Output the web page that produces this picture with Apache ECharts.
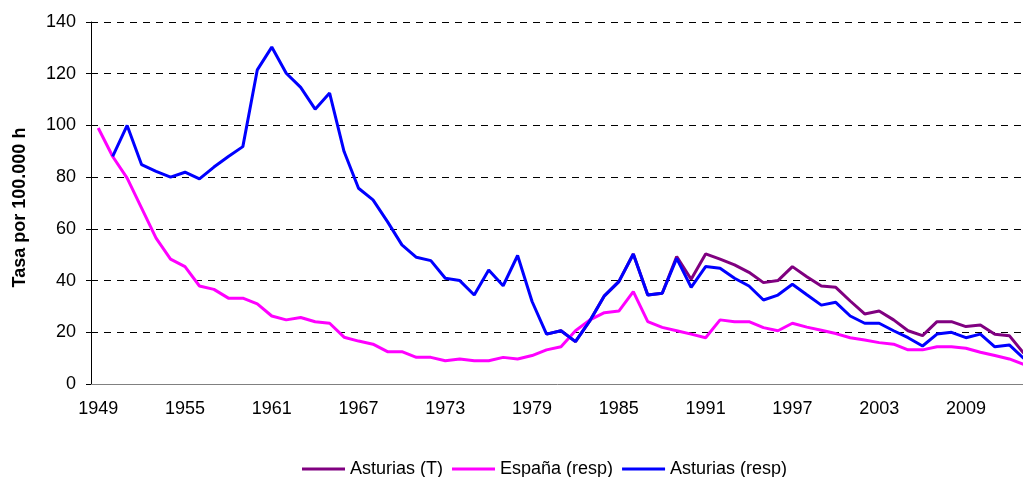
<!DOCTYPE html>
<html>
<head>
<meta charset="utf-8">
<script src="https://cdn.jsdelivr.net/npm/echarts@6/dist/echarts.min.js"></script>
<style>
  html, body { margin: 0; padding: 0; background: #fff; }
  #chart { width: 1023px; height: 477px; }
</style>
</head>
<body>
<div id="chart"></div>
<script>
// years 1949..2013
var years = [];
for (var y = 1949; y <= 2013; y++) years.push(String(y));

var asturiasT = [
  null, null, null, null, null, null, null, null, null, null,
  null, null, null, null, null, null, null, null, null, null,
  null, null, null, null, null, null, null, null, null, null,
  null, 19.3, 20.6, 16.4, 24.5, 34.1, 39.6, 50.3, 34.4, 35.1,
  49.3, 40.5, 50.3, 48.3, 46.1, 43.2, 39.2, 40.0, 45.4, 41.5,
  37.9, 37.4, 32.1, 27.1, 28.2, 24.8, 20.6, 18.7, 24.1, 24.1,
  22.2, 22.8, 19.2, 18.7, 11.9
];

var espanaResp = [
  99.0, 88.0, 79.6, 68.0, 56.4, 48.3, 45.4, 37.9, 36.6, 33.2,
  33.2, 31.0, 26.3, 24.8, 25.7, 24.1, 23.5, 18.1, 16.6, 15.4,
  12.5, 12.5, 10.3, 10.3, 9.0, 9.7, 9.0, 9.0, 10.3, 9.7,
  11.0, 13.2, 14.4, 20.6, 24.8, 27.6, 28.2, 35.7, 24.1, 21.9,
  20.6, 19.3, 17.9, 24.8, 24.1, 24.1, 21.8, 20.6, 23.5, 22.0,
  20.8, 19.5, 17.9, 17.0, 16.0, 15.4, 13.2, 13.2, 14.4, 14.4,
  13.8, 12.3, 11.0, 9.7, 7.6
];

var asturiasResp = [
  null, 88.0, 100.0, 84.8, 82.2, 80.0, 81.9, 79.3, 83.9, 88.0,
  91.8, 121.5, 130.3, 120.2, 114.7, 106.3, 112.5, 89.9, 75.7, 71.2,
  62.8, 53.8, 49.0, 47.7, 40.9, 40.0, 34.4, 44.1, 38.0, 49.7,
  31.9, 19.3, 20.6, 16.4, 24.5, 34.1, 39.6, 50.3, 34.4, 35.1,
  48.6, 37.4, 45.4, 44.8, 40.9, 37.9, 32.5, 34.4, 38.6, 34.5,
  30.5, 31.6, 26.3, 23.5, 23.5, 20.6, 17.9, 14.7, 19.3, 20.0,
  17.9, 19.3, 14.4, 15.1, 9.9
];

var chart = echarts.init(document.getElementById('chart'));
var font = '"Liberation Sans", Arial, sans-serif';

function lineSeries(name, color, data) {
  return {
    name: name,
    type: 'line',
    data: data,
    symbol: 'none',
    connectNulls: false,
    lineStyle: { color: color, width: 3 },
    itemStyle: { color: color }
  };
}

chart.setOption({
  animation: false,
  backgroundColor: '#fff',
  textStyle: { fontFamily: font },
  grid: {
    left: 91, top: 22, bottom: 93, right: -8,
    outerBoundsMode: 'none'
  },
  legend: {
    left: 297,
    top: 455,
    icon: 'rect',
    itemWidth: 43,
    itemHeight: 3,
    itemGap: 9,
    textStyle: { fontFamily: font, fontSize: 18, color: '#000' },
    data: ['Asturias (T)', 'España (resp)', 'Asturias (resp)']
  },
  xAxis: {
    type: 'category',
    data: years,
    boundaryGap: true,
    axisLine: { lineStyle: { color: '#808080', width: 1 } },
    axisTick: { interval: 0, length: 4, lineStyle: { color: '#000' } },
    axisLabel: { interval: 5, margin: 16, fontSize: 18, color: '#000', fontFamily: font },
    splitLine: { show: false }
  },
  yAxis: {
    type: 'value',
    min: 0, max: 140, interval: 20,
    name: 'Tasa por 100.000 h',
    nameLocation: 'middle',
    nameGap: 62,
    nameTextStyle: { fontSize: 18, fontWeight: 'bold', color: '#000', fontFamily: font, padding: [0, 9, 0, 0] },
    axisLine: { show: true, lineStyle: { color: '#000', width: 1 } },
    axisTick: { show: true, length: 5, lineStyle: { color: '#000' } },
    axisLabel: { margin: 15, fontSize: 18, color: '#000', fontFamily: font },
    splitLine: { show: true, lineStyle: { color: '#000', width: 1, type: [7, 6] } }
  },
  series: [
    lineSeries('Asturias (T)', '#800080', asturiasT),
    lineSeries('España (resp)', '#FF00FF', espanaResp),
    lineSeries('Asturias (resp)', '#0000FF', asturiasResp)
  ]
});
</script>
</body>
</html>
